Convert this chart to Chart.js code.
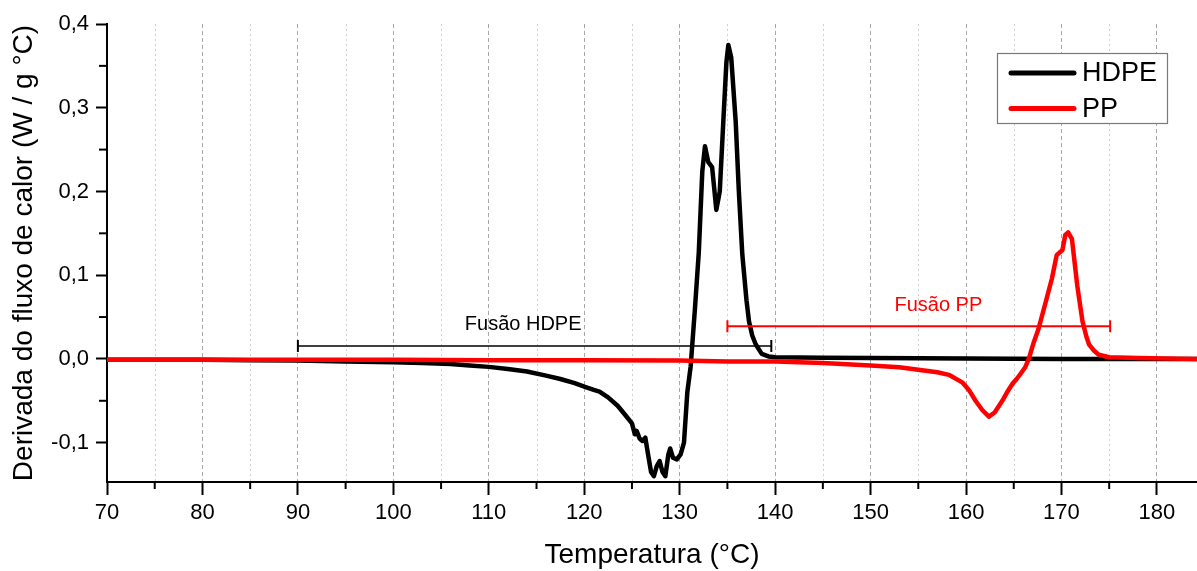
<!DOCTYPE html>
<html>
<head>
<meta charset="utf-8">
<script src="https://cdn.jsdelivr.net/npm/chart.js@4.4.1/dist/chart.umd.min.js"></script>
<style>
  html, body { margin: 0; padding: 0; background: #fff; }
  #wrap { width: 1197px; height: 571px; position: relative; }
</style>
</head>
<body>
<div id="wrap"><canvas id="c"></canvas></div>
<script>
// ---------- data ----------
const hdpeT = [70, 75, 80, 85, 90, 95, 100, 103, 106, 108, 110, 112, 114, 116, 117.5, 119, 120, 121, 121.6,
  122.5, 123.5, 124.3, 125, 125.3, 125.5, 125.8, 126.1, 126.4, 126.7, 127.0, 127.3, 127.6, 127.9, 128.2, 128.5,
  128.8, 129.0, 129.3, 129.7, 130.1, 130.45, 130.8, 131.15, 131.6, 132.0, 132.37, 132.65, 133.0, 133.4, 133.84,
  134.2, 134.6, 134.9, 135.1, 135.4, 135.87, 136.2, 136.56, 137.0, 137.26, 137.6, 137.96, 138.6, 139.3, 140,
  145, 150, 160, 170, 184.2];
const hdpeV = [-0.001, -0.001, -0.001, -0.0015, -0.002, -0.003, -0.004, -0.005, -0.006, -0.008, -0.0095, -0.012,
  -0.015, -0.02, -0.024, -0.029, -0.033, -0.037, -0.039,
  -0.046, -0.056, -0.067, -0.077, -0.09, -0.086, -0.095, -0.098, -0.094, -0.115, -0.135, -0.14, -0.128, -0.122,
  -0.135, -0.14, -0.115, -0.107, -0.118, -0.12, -0.114, -0.1, -0.04, -0.009, 0.06, 0.127, 0.224, 0.254, 0.235,
  0.229, 0.178, 0.2, 0.29, 0.355, 0.375, 0.36, 0.283, 0.2, 0.125, 0.07, 0.045, 0.028, 0.0175, 0.006, 0.003, 0.002,
  0.0015, 0.001, 0.0005, 0.0, 0.0];

const ppT = [70, 80, 90, 100, 110, 120, 130, 135, 140, 145, 150, 153, 155, 157, 158.2, 159.6, 160.3, 161.0, 161.7,
  162.4, 163.0, 163.8, 164.4, 164.85, 165.3, 165.7, 166.2, 166.6, 167.1, 167.6, 168.35, 169.0, 169.5, 169.9, 170.1,
  170.4, 170.7, 171.1, 171.65, 172.2, 172.6, 172.9, 173.4, 173.9, 175, 178, 184.2];
const ppV = [-0.001, -0.001, -0.001, -0.001, -0.0015, -0.0015, -0.002, -0.003, -0.003, -0.005, -0.008, -0.01, -0.013,
  -0.016, -0.019, -0.028, -0.037, -0.05, -0.061,
  -0.069, -0.064, -0.05, -0.038, -0.03, -0.024, -0.018, -0.01, 0.001, 0.02, 0.036, 0.068, 0.096, 0.124, 0.128, 0.13,
  0.148, 0.151, 0.143, 0.088, 0.045, 0.027, 0.017, 0.01, 0.005, 0.002, 0.001, 0.0];

// melting ranges (start, end, level) and their labels
const rangeLabels = ['Fusão HDPE', 'Fusão PP'];
const rangeStart = [90, 135];
const rangeEnd = [139.6, 175.1];
const rangeLevel = [0.0155, 0.039];
const rangeTextX = [113.6, 157.1];
const rangeTextY = [0.041, 0.064];

const xMajorTicks = [70, 80, 90, 100, 110, 120, 130, 140, 150, 160, 170, 180];
const xMinorTicks = [75, 85, 95, 105, 115, 125, 135, 145, 155, 165, 175];
const yMajorTicks = [-0.1, 0, 0.1, 0.2, 0.3, 0.4];
const yMinorTicks = [-0.05, 0.05, 0.15, 0.25, 0.35];

const seriesLabels = ['HDPE', 'PP'];
const seriesColors = ['#000000', '#ff0000'];

// ---------- build ----------
const toXY = (xs, ys) => xs.map((x, i) => ({ x: x, y: ys[i] }));
const FONT = "'Liberation Sans', Arial, sans-serif";

const datasets = [
  { label: seriesLabels[0], data: toXY(hdpeT, hdpeV), borderColor: seriesColors[0], borderWidth: 4.5,
    pointRadius: 0, tension: 0, order: 3, borderJoinStyle: 'round', borderCapStyle: 'round' },
  { label: seriesLabels[1], data: toXY(ppT, ppV), borderColor: seriesColors[1], borderWidth: 4.5,
    pointRadius: 0, tension: 0, order: 2, borderJoinStyle: 'round', borderCapStyle: 'round' }
];
rangeLabels.forEach((lab, i) => {
  datasets.push({
    label: lab, data: [{ x: rangeStart[i], y: rangeLevel[i] }, { x: rangeEnd[i], y: rangeLevel[i] }],
    borderColor: seriesColors[i], borderWidth: i === 0 ? 1.6 : 2, pointStyle: 'line', pointRadius: 6,
    pointRotation: 90, pointBorderWidth: 2, pointBorderColor: seriesColors[i], pointBackgroundColor: seriesColors[i],
    tension: 0, order: 1
  });
});

const fmtY = v => (Math.abs(v) < 1e-9 ? 0 : v).toFixed(1).replace('.', ',');

const decor = {
  id: 'decor',
  beforeDatasetsDraw(chart) {
    const { ctx, chartArea: a, scales: { x, y } } = chart;
    ctx.save();
    // minor vertical gridlines (dotted)
    ctx.strokeStyle = '#cfcfcf'; ctx.lineWidth = 1; ctx.setLineDash([2, 3]);
    xMinorTicks.forEach(v => {
      const px = Math.round(x.getPixelForValue(v)) + 0.5;
      ctx.beginPath(); ctx.moveTo(px, a.top); ctx.lineTo(px, a.bottom); ctx.stroke();
    });
    ctx.setLineDash([]);
    // minor ticks
    ctx.strokeStyle = '#000'; ctx.lineWidth = 2;
    xMinorTicks.forEach(v => {
      const px = x.getPixelForValue(v);
      ctx.beginPath(); ctx.moveTo(px, a.bottom); ctx.lineTo(px, a.bottom + 7); ctx.stroke();
    });
    yMinorTicks.forEach(v => {
      const py = y.getPixelForValue(v);
      ctx.beginPath(); ctx.moveTo(a.left, py); ctx.lineTo(a.left - 8, py); ctx.stroke();
    });
    ctx.restore();
  },
  afterDatasetsDraw(chart) {
    const { ctx, scales: { x, y } } = chart;
    ctx.save();
    ctx.font = '20px ' + FONT; ctx.textAlign = 'center'; ctx.textBaseline = 'middle';
    rangeLabels.forEach((t, i) => {
      ctx.fillStyle = seriesColors[i];
      ctx.fillText(t, x.getPixelForValue(rangeTextX[i]), y.getPixelForValue(rangeTextY[i]));
    });
    // legend
    const bx = 997, by = 53, bw = 170, bh = 70;
    ctx.fillStyle = '#fff'; ctx.fillRect(bx, by, bw, bh);
    ctx.strokeStyle = '#7a7a7a'; ctx.lineWidth = 1.2; ctx.strokeRect(bx + 0.5, by + 0.5, bw, bh);
    ctx.font = '27px ' + FONT; ctx.textAlign = 'left'; ctx.textBaseline = 'middle';
    seriesLabels.forEach((t, i) => {
      const ly = by + 20 + i * 35.5;
      ctx.strokeStyle = seriesColors[i]; ctx.lineWidth = 5; ctx.lineCap = 'round';
      ctx.beginPath(); ctx.moveTo(1011, ly); ctx.lineTo(1074, ly); ctx.stroke();
      ctx.fillStyle = '#000';
      ctx.fillText(t, 1082, ly + 1);
    });
    ctx.restore();
  }
};

new Chart(document.getElementById('c'), {
  type: 'line',
  data: { datasets },
  options: {
    responsive: true, maintainAspectRatio: false, animation: false,
    layout: { autoPadding: false, padding: { top: 24, right: 0, left: 0, bottom: 0 } },
    plugins: { legend: { display: false }, tooltip: { enabled: false } },
    elements: { line: { fill: false } },
    scales: {
      x: {
        type: 'linear', min: 70, max: 184.2,
        afterFit: s => { s.height = 89; s.paddingRight = 0; s.paddingLeft = 0; },
        afterBuildTicks: s => { s.ticks = xMajorTicks.map(v => ({ value: v })); },
        ticks: { color: '#000', font: { family: FONT, size: 22 }, padding: 5, maxRotation: 0,
                 callback: v => String(v) },
        grid: { display: true, drawOnChartArea: true, drawTicks: true, color: '#a8a8a8', lineWidth: 1,
                tickColor: '#000', tickLength: 13, tickWidth: 2 },
        border: { display: true, color: '#000', width: 2, dash: [4, 3] },
        title: { display: true, text: 'Temperatura (°C)', color: '#000',
                 font: { family: FONT, size: 28, lineHeight: 1.1 }, padding: { top: 0, bottom: 0 } }
      },
      y: {
        type: 'linear', min: -0.147, max: 0.4,
        afterFit: s => { s.width = 107; },
        afterBuildTicks: s => { s.ticks = yMajorTicks.map(v => ({ value: v })); },
        ticks: { color: '#000', font: { family: FONT, size: 22 }, padding: 7, callback: v => fmtY(v) },
        grid: { display: true, drawOnChartArea: false, drawTicks: true, tickColor: '#000', tickLength: 11, tickWidth: 2 },
        border: { display: true, color: '#000', width: 2 },
        title: { display: true, text: 'Derivada do fluxo de calor (W / g °C)', color: '#000',
                 font: { family: FONT, size: 28, lineHeight: 1.1 }, padding: { top: 9, bottom: 0 } }
      }
    }
  },
  plugins: [decor]
});
</script>
</body>
</html>
